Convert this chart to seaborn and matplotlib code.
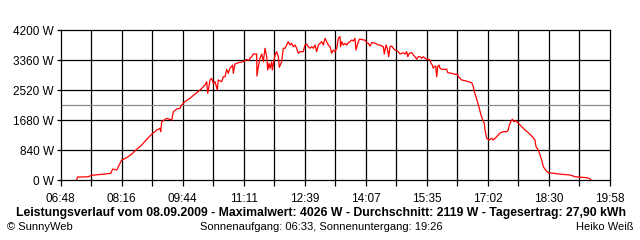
import numpy as np
import pandas as pd
import matplotlib
matplotlib.use("Agg")
import matplotlib.pyplot as plt
import seaborn as sns

# time in minutes since midnight, power in W
minutes = [431, 432, 438.1, 447.6, 452.5, 462, 471.7, 479.9, 482.8, 488.5, 493.3, 495.7,
           502.9, 510.1, 517.3, 524.5, 531.7, 538.9, 546.1, 550.8, 551.8, 553.3, 560.5,
           567.7, 570, 574.9, 579.6, 582, 586.8, 594, 601.2, 608.4, 615.6, 618, 619.5,
           622.8, 625.2, 627.5, 630, 633.3, 634.7, 639.6, 641.9, 644.4, 646.8, 649.1,
           651.5, 655.4, 656.3, 658.7, 663.5, 670.7, 675.6, 677.9, 680.3, 682.8, 685.1,
           690, 690.3, 692.3, 694.7, 697.2, 699.5, 701.9, 704.4, 705.8, 707.7, 709.1,
           711.6, 712.4, 716.3, 718.8, 721.1, 722.5, 725.9, 728.2, 730.7, 733.1, 735.4,
           737.9, 740.3, 742.6, 745.1, 747.5, 749.8, 752.3, 757, 759.5, 761.9, 764.2,
           766.7, 769.1, 771.4, 773.9, 776.3, 778.6, 781.1, 783.5, 785.8, 788.3, 790.7,
           793, 795.5, 797.9, 800.2, 802.6, 805.1, 807.4, 809.8, 810.8, 812.3, 814.6,
           817, 819.5, 821.8, 824.2, 826.7, 829, 831.4, 832.9, 834.7, 837.6, 841.1,
           843.4, 845.8, 848.3, 850.6, 853, 855.5, 857.8, 860.2, 862.7, 865, 867.4,
           869.8, 872.2, 873.6, 876, 877.9, 879.9, 881.8, 884.2, 886.5, 889, 891.4,
           893.7, 896.2, 898.6, 900.9, 903.4, 905.8, 907.3, 909.6, 913, 915.3, 917.8,
           920.2, 922.5, 925, 927.4, 929.7, 932.2, 934.6, 936.9, 939.4, 940.8, 942.7,
           944.1, 945.5, 947.6, 949, 950.4, 952.3, 953.7, 956.2, 960.9, 963.4, 964.8,
           970.6, 975.3, 979.2, 980.1, 982.5, 985, 989.7, 994.5, 999.4, 1001.7, 1003.1,
           1005.5, 1008, 1010.3, 1012.7, 1015.2, 1017.5, 1018.5, 1020.9, 1024.3, 1028.1,
           1030.4, 1035.3, 1040.1, 1044.8, 1049.7, 1052, 1053.5, 1055.5, 1057.8, 1060.2,
           1063.1, 1066.4, 1071.3, 1076.1, 1080.8, 1085.7, 1090.4, 1091.9, 1095.2,
           1097.6, 1100.1, 1102.4, 1106.3, 1109.6, 1116.8, 1128.9, 1140.8, 1148,
           1157.6, 1164.8, 1169.6, 1171]
power = [0, 92, 92, 100, 140, 157, 176, 196, 316, 288, 476, 568,
         633, 736, 868, 988, 1148, 1288, 1408, 1456, 1360, 1641, 1736,
         1688, 1921, 1996, 2016, 2108, 2201, 2296, 2416, 2528, 2668, 2761, 2436,
         2808, 2856, 2716, 2761, 2528, 2808, 2761, 2901, 2901, 3108, 2996,
         3136, 3228, 2996, 3256, 3293, 3321, 3388, 3349, 3416, 3461, 3536,
         3536, 2920, 3181, 3416, 3536, 3321, 3696, 3461, 3088, 3276, 3136,
         3321, 3088, 3508, 3601, 3461, 3164, 3321, 3696, 3696, 3788, 3881,
         3788, 3836, 3741, 3788, 3696, 3556, 3601, 3601, 3788, 3816, 3741,
         3696, 3741, 3696, 3788, 3601, 3788, 3836, 3881, 3788, 3976, 3881,
         3788, 3741, 3556, 3648, 3601, 3696, 3976, 4026, 3741, 3881, 3788,
         3836, 3788, 3853, 3881, 3928, 3900, 3976, 3648, 3788, 3948, 3948,
         3928, 3928, 3853, 3836, 3760, 3853, 3853, 3836, 3816, 3788, 3788,
         3760, 3741, 3536, 3788, 3696, 3461, 3741, 3760, 3696, 3648, 3629,
         3601, 3536, 3556, 3570, 3536, 3601, 3461, 3556, 3573, 3508, 3461,
         3388, 3461, 3460, 3416, 3461, 3416, 3388, 3388, 3368, 3276, 3228,
         3136, 3181, 3200, 2901, 3181, 3228, 3136, 3108, 3108, 3108, 3013,
         2996, 2968, 2968, 2901, 2856, 2808, 2789, 2761, 2733, 2621, 2481,
         2341, 2173, 2016, 1828, 1688, 1596, 1408, 1176, 1128, 1176,
         1128, 1221, 1325, 1361, 1361, 1408, 1548, 1641, 1708, 1641,
         1669, 1596, 1501, 1408, 1333, 1240, 1128, 941, 848,
         708, 568, 381, 269, 213, 196, 168, 148, 101,
         84, 73, 45, 8]

average_w = 2119
x_tick_labels = ["06:48", "08:16", "09:44", "11:11", "12:39", "14:07",
                 "15:35", "17:02", "18:30", "19:58"]
y_ticks = [0, 840, 1680, 2520, 3360, 4200]
title = ("Leistungsverlauf vom 08.09.2009 - Maximalwert: 4026 W - "
         "Durchschnitt: 2119 W - Tagesertrag: 27,90 kWh")
footer_left = "\u00a9 SunnyWeb"
footer_mid = "Sonnenaufgang: 06:33, Sonnenuntergang: 19:26"
footer_right = "Heiko Weiß"

sns.set_theme(style="white")
plt.rcParams["font.family"] = ["Liberation Sans", "DejaVu Sans"]

df = pd.DataFrame({"t": minutes, "p": power})

fig = plt.figure(figsize=(6.4, 2.4), dpi=100)
ax = fig.add_axes([60.75 / 640, (240 - 180.3) / 240, 549 / 640, 150 / 240])

xmin, xmax = 408, 1198
grid_x = np.linspace(xmin, xmax, 19)
for gx in grid_x[1:-1]:
    ax.axvline(gx, color="black", lw=0.9, zorder=1)
for gy in y_ticks[1:-1]:
    ax.axhline(gy, color="black", lw=0.9, zorder=1)
ax.axhline(average_w, color="#8c8c8c", lw=0.9, zorder=1)

sns.lineplot(data=df, x="t", y="p", ax=ax, color="#ff0000", lw=0.9,
             estimator=None, sort=False, zorder=3)

ax.set_xlim(xmin, xmax)
ax.set_ylim(0, 4200)
ax.set_xticks(grid_x)
ax.set_xticklabels([x_tick_labels[i // 2] if i % 2 == 0 else "" for i in range(19)])
ax.set_yticks(y_ticks)
ax.set_yticklabels([f"{v} W" for v in y_ticks])
ax.set_xlabel("")
ax.set_ylabel("")
ax.tick_params(axis="x", bottom=True, length=4, width=0.9, color="black",
               labelsize=8.5, pad=5, labelcolor="black")
ax.tick_params(axis="y", left=True, length=3, width=0.9, color="black",
               labelsize=8.5, pad=2, labelcolor="black")
for s in ax.spines.values():
    s.set_visible(True)
    s.set_color("black")
    s.set_linewidth(0.9)

fig.text(321 / 640, 1 - 213 / 240, title, ha="center", va="center",
         fontsize=8.8, fontweight="bold", color="black")
fig.text(7 / 640, 1 - 227 / 240, footer_left, ha="left", va="center",
         fontsize=8, color="black")
fig.text(321 / 640, 1 - 227 / 240, footer_mid, ha="center", va="center",
         fontsize=8, color="black")
fig.text(634 / 640, 1 - 227 / 240, footer_right, ha="right", va="center",
         fontsize=8, color="black")

fig.savefig("out.png", dpi=100, facecolor="white")
